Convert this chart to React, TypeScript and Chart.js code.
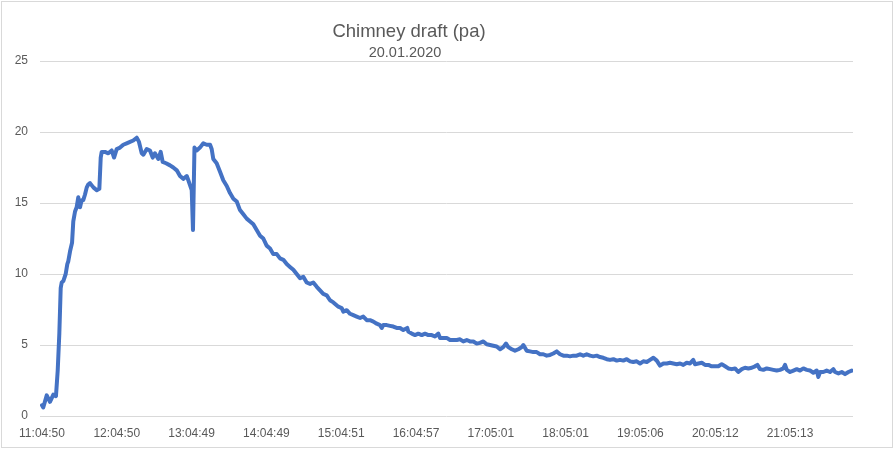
import React, { useEffect, useRef } from "react";
import { Chart, registerables } from "chart.js";

Chart.register(...registerables);

const TITLE = "Chimney draft (pa)";
const SUBTITLE = "20.01.2020";

const tickLabels = [
  "11:04:50", "12:04:50", "13:04:49", "14:04:49", "15:04:51", "16:04:57",
  "17:05:01", "18:05:01", "19:05:06", "20:05:12", "21:05:13",
];
// position of each tick label, minutes after 11:04:50
const tickMinutes = [0, 60, 120, 180, 240, 300, 360, 420, 480, 540, 600];

// minutes after 11:04:50
const elapsedMin = [
  0, 1.0, 3.8, 6.4, 9.1, 11.2, 12.6, 13.9, 15.0, 15.8, 17.1, 19.0, 20.3, 21.1, 22.5, 24.1,
  25.1, 26.5, 27.8, 29.1, 30.5, 31.8, 33.1, 34.5, 35.9, 37.1, 38.5, 41.2, 43.9, 46.0, 47.1, 47.9,
  50.5, 53.2, 55.9, 57.8, 59.9, 62.6, 65.2, 67.9, 70.6, 73.2, 76.0, 77.8, 80.0, 81.3, 84.0, 86.6,
  88.8, 90.6, 93.3, 95.2, 96.8, 99.5, 102.7, 105.3, 108.1, 110.7, 113.3, 116.1, 117.4, 120.1, 121.1, 122.3,
  124.1, 126.7, 129.4, 132.1, 134.8, 136.1, 137.4, 140.1, 142.8, 145.4, 148.2, 150.8, 153.5, 156.2, 158.8, 161.5,
  164.2, 166.9, 169.5, 172.2, 174.9, 177.5, 180.2, 182.9, 185.5, 188.3, 190.9, 193.6, 196.3, 198.9, 201.6, 204.3,
  207.0, 209.6, 212.3, 215.0, 217.6, 220.4, 223.0, 225.6, 228.4, 231.0, 233.7, 237.7, 240.4, 241.7, 244.4, 247.1,
  249.7, 252.4, 255.1, 257.7, 260.5, 263.1, 265.8, 268.5, 271.1, 272.5, 273.8, 276.5, 279.1, 281.8, 284.5, 287.2,
  289.8, 293.0, 293.8, 296.6, 299.2, 301.8, 304.6, 307.2, 309.9, 312.6, 315.2, 317.9, 319.3, 321.9, 324.6, 327.3,
  329.9, 332.7, 335.3, 337.9, 340.7, 343.3, 346.0, 348.7, 351.3, 354.0, 356.7, 359.4, 362.0, 364.7, 367.4, 370.0,
  372.2, 374.0, 376.8, 379.4, 382.1, 384.8, 386.1, 388.8, 391.4, 394.1, 396.8, 399.5, 402.1, 404.8, 407.5, 410.1,
  412.9, 415.5, 418.2, 420.9, 423.5, 426.2, 428.9, 431.6, 434.2, 436.9, 439.6, 442.2, 444.9, 447.6, 450.2, 453.0,
  455.6, 458.3, 461.0, 463.6, 466.3, 469.0, 471.7, 474.3, 477.0, 479.7, 482.3, 485.1, 487.7, 490.4, 493.1, 495.7,
  498.4, 501.1, 503.7, 506.4, 509.1, 511.8, 514.4, 517.1, 519.8, 522.4, 523.8, 526.5, 529.2, 531.8, 534.5, 537.2,
  539.8, 542.5, 545.2, 547.9, 550.5, 553.2, 555.9, 558.5, 561.3, 563.9, 566.6, 569.3, 571.9, 573.8, 575.9, 578.6,
  581.3, 584.0, 586.6, 589.3, 592.0, 594.6, 596.0, 597.4, 600.0, 602.7, 605.4, 608.0, 610.7, 613.4, 616.0, 618.7,
  621.4, 622.7, 624.1, 626.7, 629.4, 632.1, 634.7, 636.1, 638.8, 641.5, 644.1, 646.8, 649.5,
];

// chimney draft, Pa
const draftPa = [
  0.75, 0.6, 1.45, 1.0, 1.5, 1.4, 3.2, 5.8, 9.0, 9.4, 9.5, 10.0, 10.7, 10.9, 11.6, 12.2,
  13.7, 14.4, 14.7, 15.4, 14.7, 15.2, 15.2, 15.6, 16.1, 16.3, 16.4, 16.1, 15.9, 16.0, 18.2, 18.6,
  18.6, 18.5, 18.7, 18.2, 18.8, 18.9, 19.1, 19.2, 19.3, 19.4, 19.6, 19.3, 18.5, 18.4, 18.8, 18.7,
  18.2, 18.5, 18.1, 18.6, 17.9, 17.8, 17.65, 17.5, 17.3, 16.9, 16.7, 16.9, 16.6, 15.9, 13.1, 18.9,
  18.7, 18.9, 19.2, 19.1, 19.1, 18.8, 18.1, 17.8, 17.2, 16.6, 16.2, 15.7, 15.3, 15.1, 14.5, 14.2,
  13.9, 13.7, 13.5, 13.1, 12.7, 12.5, 12.0, 11.8, 11.4, 11.4, 11.1, 11.0, 10.7, 10.5, 10.3, 10.0,
  9.7, 9.8, 9.4, 9.3, 9.4, 9.1, 8.85, 8.6, 8.5, 8.15, 8.0, 7.7, 7.6, 7.35, 7.45, 7.2,
  7.1, 7.0, 6.9, 7.0, 6.75, 6.75, 6.65, 6.5, 6.4, 6.2, 6.4, 6.4, 6.35, 6.3, 6.2, 6.2,
  6.05, 6.2, 5.95, 5.8, 5.7, 5.8, 5.7, 5.8, 5.7, 5.7, 5.6, 5.8, 5.5, 5.5, 5.5, 5.35,
  5.35, 5.35, 5.4, 5.25, 5.35, 5.25, 5.25, 5.1, 5.15, 5.25, 5.05, 5.0, 4.95, 4.9, 4.7, 4.85,
  5.1, 4.85, 4.7, 4.6, 4.7, 4.85, 5.0, 4.6, 4.55, 4.5, 4.5, 4.35, 4.35, 4.25, 4.3, 4.4,
  4.55, 4.35, 4.25, 4.25, 4.2, 4.25, 4.25, 4.35, 4.25, 4.35, 4.25, 4.2, 4.25, 4.15, 4.1, 4.0,
  3.95, 4.0, 3.9, 3.95, 3.9, 4.0, 3.85, 3.8, 3.85, 3.7, 3.85, 3.8, 3.95, 4.1, 3.9, 3.55,
  3.7, 3.7, 3.75, 3.7, 3.65, 3.7, 3.6, 3.75, 3.7, 3.95, 3.65, 3.7, 3.75, 3.6, 3.6, 3.5,
  3.5, 3.5, 3.65, 3.5, 3.35, 3.3, 3.35, 3.1, 3.3, 3.4, 3.35, 3.4, 3.5, 3.6, 3.3, 3.25,
  3.35, 3.3, 3.25, 3.2, 3.25, 3.35, 3.6, 3.25, 3.1, 3.2, 3.3, 3.2, 3.35, 3.25, 3.2, 3.05,
  3.2, 2.75, 3.1, 3.1, 3.2, 3.1, 3.3, 3.1, 3.0, 3.1, 2.95, 3.1, 3.2,
];

const FONT = '"Liberation Sans", Arial, sans-serif';
const TEXT = "#595959";
const GRID = "#d9d9d9";

const decor = {
  id: "decor",
  beforeDraw(chart: any) {
    const ctx = chart.ctx;
    ctx.save();
    ctx.fillStyle = "#ffffff";
    ctx.fillRect(0, 0, chart.width, chart.height);
    ctx.strokeStyle = GRID;
    ctx.lineWidth = 1;
    ctx.strokeRect(1.5, 1.5, chart.width - 3, chart.height - 3);
    ctx.restore();
  },
  afterDraw(chart: any) {
    const ctx = chart.ctx;
    ctx.save();
    ctx.fillStyle = TEXT;
    ctx.textAlign = "center";
    ctx.textBaseline = "alphabetic";
    ctx.font = `18.5px ${FONT}`;
    ctx.fillText(TITLE, 409, 37);
    ctx.font = `14.5px ${FONT}`;
    ctx.fillText(SUBTITLE, 405, 57);
    ctx.restore();
  },
};

export default function App() {
  const ref = useRef<HTMLCanvasElement | null>(null);

  useEffect(() => {
    const canvas = ref.current;
    if (!canvas) return;
    const points = elapsedMin.map((m, i) => ({ x: m, y: draftPa[i] }));
    const chart = new Chart(canvas, {
      type: "line",
      data: {
        datasets: [
          {
            data: points,
            borderColor: "#4472C4",
            borderWidth: 4,
            pointRadius: 0,
            tension: 0,
            borderJoinStyle: "round",
            borderCapStyle: "round",
            fill: false,
          },
        ],
      },
      options: {
        animation: false,
        responsive: false,
        devicePixelRatio: 1,
        layout: { padding: { top: 61, right: 41, left: 0, bottom: 0 } },
        plugins: {
          legend: { display: false },
          tooltip: { enabled: false },
          title: { display: false },
        },
        scales: {
          x: {
            type: "linear",
            min: -1.6,
            max: 650.5,
            grid: { display: false, drawTicks: false },
            border: { display: false },
            afterBuildTicks: (scale: any) => {
              scale.ticks = tickMinutes.map((v) => ({ value: v }));
            },
            afterFit: (scale: any) => {
              scale.height = 33;
            },
            ticks: {
              autoSkip: false,
              maxRotation: 0,
              padding: 10,
              color: TEXT,
              font: { family: FONT, size: 12 },
              callback: (value: any) => {
                const i = tickMinutes.indexOf(Number(value));
                return i >= 0 ? tickLabels[i] : "";
              },
            },
          },
          y: {
            min: 0,
            max: 25,
            grid: { color: GRID, lineWidth: 1, drawTicks: false },
            border: { display: false },
            afterFit: (scale: any) => {
              scale.width = 40;
            },
            ticks: {
              stepSize: 5,
              padding: 12,
              color: TEXT,
              font: { family: FONT, size: 12 },
            },
          },
        },
      },
      plugins: [decor],
    });
    return () => chart.destroy();
  }, []);

  return (
    <div
      style={{
        position: "fixed",
        left: 0,
        top: 0,
        width: 894,
        height: 449,
        background: "#ffffff",
      }}
    >
      <canvas ref={ref} width={894} height={449} style={{ display: "block" }} />
    </div>
  );
}
